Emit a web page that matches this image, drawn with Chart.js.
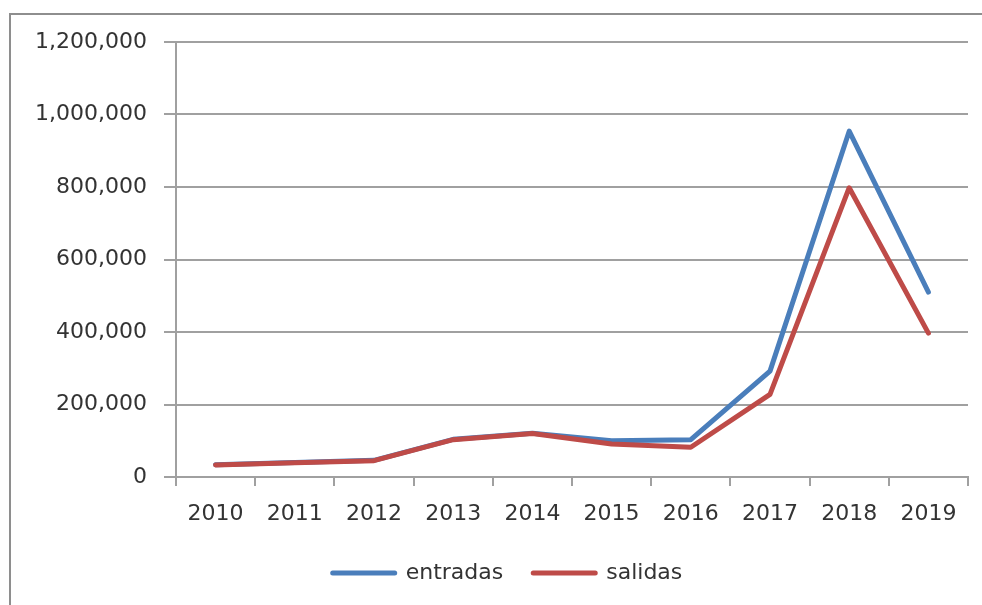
<!DOCTYPE html>
<html>
<head>
<meta charset="utf-8">
<script src="https://cdn.jsdelivr.net/npm/chart.js@4/dist/chart.umd.min.js"></script>
<style>
  html, body { margin: 0; padding: 0; background: #fff; overflow: hidden; }
  #wrap { position: relative; width: 982px; height: 605px; overflow: hidden; }
  .edge { position: absolute; background: #8e8e8e; }
  #edgeTop { left: 9px; top: 13px; width: 973px; height: 2px; }
  #edgeLeft { left: 9px; top: 13px; width: 2px; height: 592px; }
  canvas { position: absolute; left: 0; top: 0; }
</style>
</head>
<body>
<div id="wrap">
  <div class="edge" id="edgeTop"></div>
  <div class="edge" id="edgeLeft"></div>
  <canvas id="c" width="982" height="605"></canvas>
</div>
<script>
const years = ['2010', '2011', '2012', '2013', '2014', '2015', '2016', '2017', '2018', '2019'];
const entradas = [34000, 40000, 46000, 104000, 121000, 100000, 103000, 292000, 954000, 510000];
const salidas = [33000, 39000, 45000, 103000, 120000, 91000, 82000, 228000, 798000, 397000];
const yTickValues = [0, 200000, 400000, 600000, 800000, 1000000, 1200000];

const FONT = { family: "'DejaVu Sans', sans-serif", size: 22 };
const TEXT = '#333333';
const GRID = '#a0a0a0';

// shift the legend block so it is centred under the whole framed figure
const legendShift = {
  id: 'legendShift',
  afterLayout(chart) {
    if (chart.legend) { chart.legend.left += 47; }
  }
};

new Chart(document.getElementById('c'), {
  type: 'line',
  plugins: [legendShift],
  data: {
    labels: years,
    datasets: [
      { label: 'entradas', data: entradas, borderColor: '#4a7ebb', backgroundColor: '#4a7ebb',
        borderWidth: 5, pointRadius: 0, tension: 0, borderCapStyle: 'round', borderJoinStyle: 'round', order: 2 },
      { label: 'salidas', data: salidas, borderColor: '#be4b48', backgroundColor: '#be4b48',
        borderWidth: 5, pointRadius: 0, tension: 0, borderCapStyle: 'round', borderJoinStyle: 'round', order: 1 }
    ]
  },
  options: {
    responsive: false,
    animation: false,
    devicePixelRatio: 1,
    layout: { padding: { left: 0, right: 14, top: 42, bottom: 11 } },
    plugins: {
      tooltip: { enabled: false },
      legend: {
        position: 'bottom',
        labels: {
          font: FONT, color: TEXT, padding: 30,
          usePointStyle: true, pointStyleWidth: 62, boxHeight: 5,
          sort: (a, b) => a.datasetIndex - b.datasetIndex,
          generateLabels: (chart) => chart.data.datasets.map((ds, i) => ({
            text: ds.label, datasetIndex: i, pointStyle: 'line',
            strokeStyle: ds.borderColor, fillStyle: ds.borderColor,
            lineWidth: 5, lineCap: 'round', fontColor: TEXT, hidden: false
          }))
        }
      }
    },
    scales: {
      x: {
        offset: true,
        grid: { offset: true, drawOnChartArea: false, drawTicks: true, tickLength: 9, color: GRID, lineWidth: 2 },
        border: { display: true, color: GRID, width: 2 },
        ticks: { font: FONT, color: TEXT, padding: 15, maxRotation: 0, autoSkip: false },
        afterFit: (s) => { s.height = 55; }
      },
      y: {
        min: 0, max: 1200000,
        afterBuildTicks: (s) => { s.ticks = yTickValues.map(v => ({ value: v })); },
        grid: { color: GRID, lineWidth: 2, tickLength: 12 },
        border: { display: true, color: GRID, width: 2 },
        ticks: { font: FONT, color: TEXT, padding: 17,
                 callback: (v) => Number(v).toLocaleString('en-US') },
        afterFit: (s) => { s.width = 176; }
      }
    }
  }
});
</script>
</body>
</html>
